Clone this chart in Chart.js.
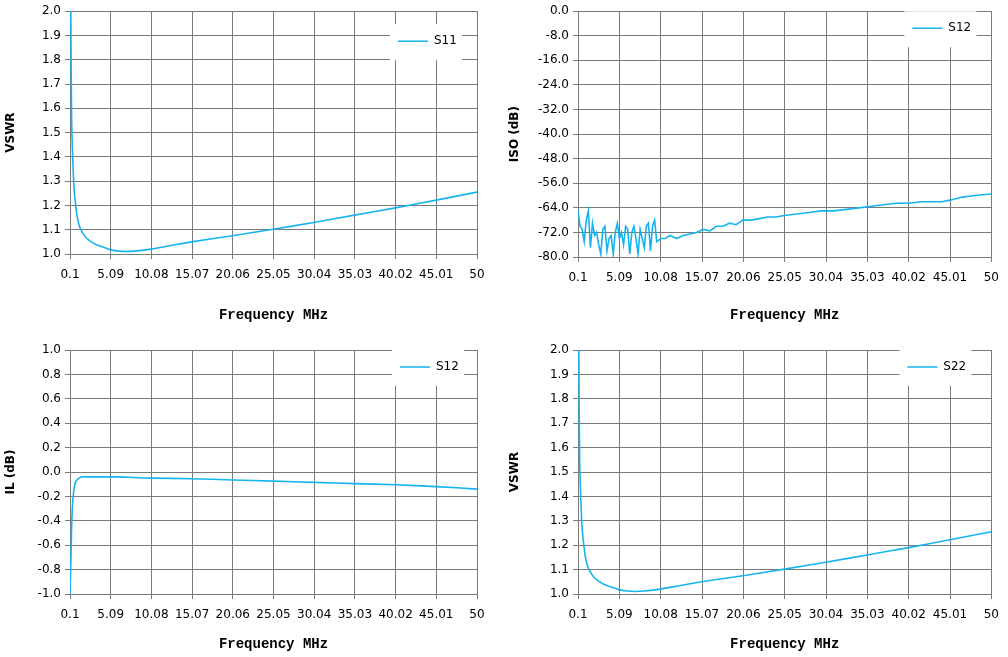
<!DOCTYPE html>
<html>
<head>
<meta charset="utf-8">
<script src="https://cdn.jsdelivr.net/npm/chart.js@4/dist/chart.umd.min.js"></script>
<style>
  body { margin: 0; background: #fff; }
  .box { position: absolute; }
</style>
</head>
<body>
<div class="box" style="left:0;top:0;width:504px;height:328px"><canvas id="c1"></canvas></div>
<div class="box" style="left:504px;top:0;width:504px;height:328px"><canvas id="c2"></canvas></div>
<div class="box" style="left:0;top:328px;width:504px;height:329px"><canvas id="c3"></canvas></div>
<div class="box" style="left:504px;top:328px;width:504px;height:329px"><canvas id="c4"></canvas></div>
<script>
const xTicks = [0.1, 5.09, 10.08, 15.07, 20.06, 25.05, 30.04, 35.03, 40.02, 45.01, 50];

// S11 VSWR
const s11Freq = [0.1, 0.2, 0.3, 0.45, 0.6, 0.8, 1.0, 1.3, 1.6, 2.0, 2.5, 3.2, 4.0, 5.0, 6.0, 7.0, 8.0, 10.0, 12.5, 15.0, 20.0, 25.0, 30.0, 35.0, 40.0, 45.0, 50.0];
const s11Vswr = [2.6, 2.0, 1.55, 1.38, 1.27, 1.2, 1.15, 1.11, 1.09, 1.07, 1.055, 1.04, 1.03, 1.018, 1.012, 1.01, 1.012, 1.02, 1.035, 1.05, 1.075, 1.102, 1.13, 1.16, 1.19, 1.222, 1.255];

// S12 isolation
const isoFreq = [0.1, 0.35, 0.6, 0.85, 1.1, 1.35, 1.6, 1.85, 2.1, 2.35, 2.6, 2.85, 3.1, 3.35, 3.6, 3.85, 4.1, 4.35, 4.6, 4.85, 5.1, 5.35, 5.6, 5.85, 6.1, 6.35, 6.6, 6.85, 7.1, 7.35, 7.6, 7.85, 8.1, 8.35, 8.6, 8.85, 9.1, 9.35, 9.6, 10.1, 10.6, 11.2, 12.0, 12.8, 13.6, 14.4, 15.2, 16.0, 16.8, 17.6, 18.4, 19.2, 20.0, 21.0, 22.0, 23.0, 24.0, 25.0, 26.5, 28.0, 29.5, 31.0, 32.5, 34.0, 35.5, 37.0, 38.5, 40.0, 41.5, 43.0, 44.0, 45.0, 46.5, 48.0, 50.0];
const isoDb = [-65, -70, -71, -75, -68, -65, -77, -69, -73, -72, -76, -79, -71, -70, -78, -74, -73, -79, -72, -69, -74, -72, -76, -70, -71, -79, -72, -70, -74, -79, -71, -74, -77, -70, -69, -78, -70, -68, -75, -74, -74, -73, -74, -73, -72.5, -72, -71, -71.5, -70, -70, -69, -69.5, -68, -68, -67.5, -67, -67, -66.5, -66, -65.5, -65, -65, -64.5, -64, -63.5, -63, -62.5, -62.5, -62, -62, -62, -61.5, -60.5, -60, -59.5];

// S12 insertion loss
const ilFreq = [0.1, 0.2, 0.3, 0.4, 0.55, 0.7, 0.9, 1.2, 1.6, 2.5, 4.0, 6.0, 8.0, 10.0, 15.0, 20.0, 25.0, 30.0, 35.0, 40.0, 45.0, 50.0];
const ilDb = [-1.0, -0.75, -0.45, -0.28, -0.16, -0.1, -0.07, -0.05, -0.04, -0.04, -0.04, -0.04, -0.045, -0.05, -0.055, -0.065, -0.075, -0.085, -0.095, -0.105, -0.12, -0.14];

// S22 VSWR
const s22Freq = [0.1, 0.2, 0.3, 0.45, 0.6, 0.8, 1.0, 1.3, 1.6, 2.0, 2.5, 3.2, 4.0, 5.0, 6.0, 7.0, 8.0, 10.0, 12.5, 15.0, 20.0, 25.0, 30.0, 35.0, 40.0, 45.0, 50.0];
const s22Vswr = [2.6, 2.0, 1.55, 1.38, 1.27, 1.2, 1.15, 1.11, 1.09, 1.07, 1.055, 1.04, 1.03, 1.018, 1.012, 1.01, 1.012, 1.02, 1.035, 1.05, 1.075, 1.102, 1.13, 1.16, 1.19, 1.222, 1.255];

const lineColor = '#16b4ee';
const gridColor = '#7a7a7a';
const tickFont = { family: "'DejaVu Sans', Verdana, sans-serif", size: 12 };
const titleFont = { family: "'DejaVu Sans', Verdana, sans-serif", size: 12, weight: 'bold' };
const xTitleFont = { family: "'Liberation Mono', 'DejaVu Sans Mono', monospace", size: 14, weight: 'bold' };

const legendPlugin = {
    id: 'boxLegend',
    afterDraw(chart, args, opts) {
        const { ctx, chartArea } = chart;
        const x = chartArea.right - opts.dx;
        const y = chartArea.top + opts.dy;
        ctx.save();
        ctx.fillStyle = '#fff';
        ctx.fillRect(x - 8, y - 17, 72, 36);
        ctx.strokeStyle = lineColor;
        ctx.lineWidth = 1.5;
        ctx.beginPath();
        ctx.moveTo(x, y);
        ctx.lineTo(x + 30, y);
        ctx.stroke();
        ctx.fillStyle = '#000';
        ctx.font = "12px 'DejaVu Sans', Verdana, sans-serif";
        ctx.textBaseline = 'middle';
        ctx.fillText(opts.label, x + 36, y);
        ctx.restore();
    }
};

function makeChart(id, xs, ys, cfg) {
    const data = xs.map((x, i) => ({ x: x, y: ys[i] }));
    new Chart(document.getElementById(id), {
        type: 'line',
        data: { datasets: [{ data: data, borderColor: lineColor, borderWidth: 1.6, pointRadius: 0, tension: cfg.tension, fill: false }] },
        plugins: [legendPlugin],
        options: {
            responsive: true,
            maintainAspectRatio: false,
            animation: false,
            layout: { padding: { top: cfg.top, right: cfg.right, left: 0, bottom: 0 } },
            plugins: {
                legend: { display: false },
                tooltip: { enabled: false },
                boxLegend: { label: cfg.label, dx: cfg.dx, dy: cfg.dy }
            },
            scales: {
                x: {
                    type: 'linear', min: 0.1, max: 50,
                    afterBuildTicks: axis => { axis.ticks = xTicks.map(v => ({ value: v })); },
                    afterFit: axis => { axis.height = cfg.xh; },
                    ticks: { color: '#000', font: tickFont, callback: v => String(v), maxRotation: 0, autoSkip: false, padding: 9 },
                    grid: { color: gridColor, lineWidth: 1, tickLength: 5, drawTicks: true },
                    border: { color: gridColor },
                    title: { display: true, text: 'Frequency MHz', color: '#000', font: xTitleFont, padding: { top: 6 } }
                },
                y: {
                    min: cfg.ymin, max: cfg.ymax,
                    afterBuildTicks: axis => { axis.ticks = cfg.yTicks.map(v => ({ value: v })); },
                    afterFit: axis => { axis.width = cfg.yw; },
                    ticks: { color: '#000', font: tickFont, callback: v => v.toFixed(1), autoSkip: false, padding: 4 },
                    grid: { color: gridColor, lineWidth: 1, tickLength: 5 },
                    border: { color: gridColor },
                    title: { display: true, text: cfg.ytitle, color: '#000', font: titleFont, padding: 4 }
                }
            }
        }
    });
}

const vswrTicks = [1.0, 1.1, 1.2, 1.3, 1.4, 1.5, 1.6, 1.7, 1.8, 1.9, 2.0];
const isoTicks = [-80, -72, -64, -56, -48, -40, -32, -24, -16, -8, 0];
const ilTicks = [-1.0, -0.8, -0.6, -0.4, -0.2, 0.0, 0.2, 0.4, 0.6, 0.8, 1.0];

makeChart('c1', s11Freq, s11Vswr, { top: 10, right: 27, xh: 74, yw: 70, ymin: 1, ymax: 2, yTicks: vswrTicks, ytitle: 'VSWR', label: 'S11', dx: 79, dy: 30, tension: 0.3 });
makeChart('c2', isoFreq, isoDb, { top: 11, right: 14, xh: 71, yw: 74, ymin: -80, ymax: 0, yTicks: isoTicks, ytitle: 'ISO (dB)', label: 'S12', dx: 79, dy: 17, tension: 0 });
makeChart('c3', ilFreq, ilDb, { top: 22, right: 27, xh: 63, yw: 70, ymin: -1, ymax: 1, yTicks: ilTicks, ytitle: 'IL (dB)', label: 'S12', dx: 77, dy: 17, tension: 0.3 });
makeChart('c4', s22Freq, s22Vswr, { top: 22, right: 14, xh: 63, yw: 74, ymin: 1, ymax: 2, yTicks: vswrTicks, ytitle: 'VSWR', label: 'S22', dx: 84, dy: 17, tension: 0.3 });
</script>
</body>
</html>
